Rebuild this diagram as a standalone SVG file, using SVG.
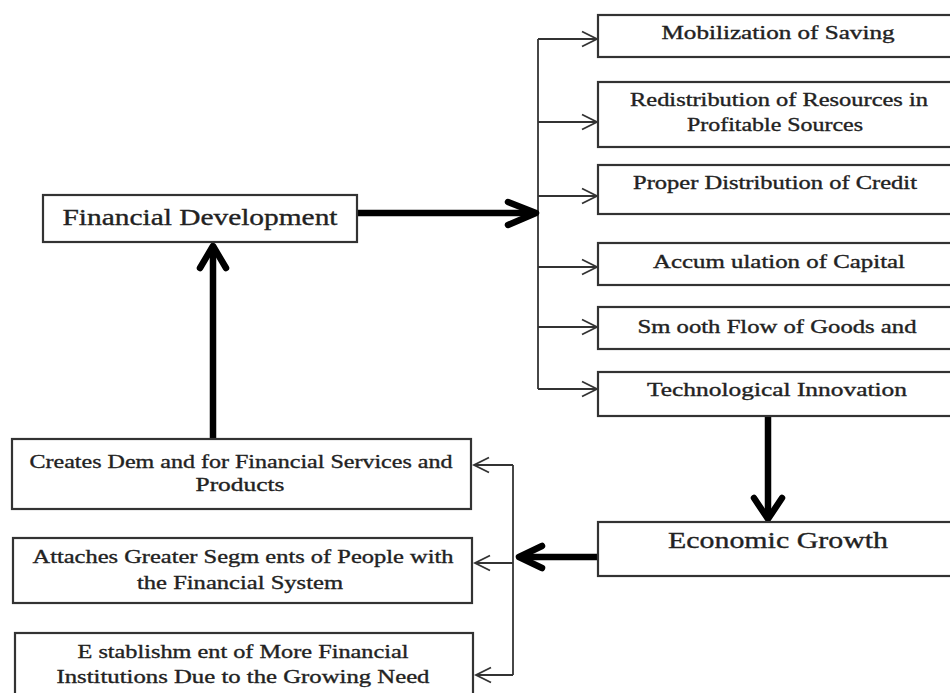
<svg xmlns="http://www.w3.org/2000/svg" width="950" height="693" viewBox="0 0 950 693">
  <style>
    .box { fill: #ffffff; stroke: #333333; stroke-width: 2.2; }
    .lbl { font-family: "Liberation Serif", "Times New Roman", serif; fill: #222222; stroke: #222222; stroke-width: 0.35; text-anchor: middle; }
    .s18 { font-size: 18px; }
    .s19 { font-size: 19px; }
    .s24 { font-size: 24px; }
    .thin { fill: none; stroke: #333333; stroke-width: 1.8; }
    .thick { fill: none; stroke: #000000; stroke-width: 6.5; stroke-linecap: round; stroke-linejoin: round; }
    .shaft { fill: none; stroke: #000000; stroke-width: 6.5; }
  </style>
  <rect width="950" height="693" fill="#ffffff"/>

  <!-- connectors -->
  <g id="connectors">
    <!-- fan-out bus from Financial Development -->
    <path class="thin" d="M538 39 V389"/>
    <path class="thin" d="M538 39 H596 M582 31.5 L597 39 L582 46.5"/>
    <path class="thin" d="M538 122 H596 M582 114.5 L597 122 L582 129.5"/>
    <path class="thin" d="M538 196 H596 M582 188.5 L597 196 L582 203.5"/>
    <path class="thin" d="M538 267 H596 M582 259.5 L597 267 L582 274.5"/>
    <path class="thin" d="M538 327 H596 M582 319.5 L597 327 L582 334.5"/>
    <path class="thin" d="M538 389 H596 M582 381.5 L597 389 L582 396.5"/>

    <!-- Financial Development to the bus -->
    <path class="shaft" d="M357 213 H533"/>
    <path class="thick" d="M508 202 L536 213 L508 225"/>

    <!-- Technological Innovation down to Economic Growth -->
    <path class="shaft" d="M768 416 V518"/>
    <path class="thick" d="M754 498 L768 519 L782 498"/>

    <!-- Economic Growth back to the feedback bus -->
    <path class="shaft" d="M598 557 H521"/>
    <path class="thick" d="M542 546 L519 557 L542 568"/>

    <!-- feedback bus to the lower-left boxes -->
    <path class="thin" d="M513 465 V675"/>
    <path class="thin" d="M513 465 H474 M489 457.5 L474 465 L489 472.5"/>
    <path class="thin" d="M513 563 H475 M490 555.5 L475 563 L490 570.5"/>
    <path class="thin" d="M513 675 H476 M491 667.5 L476 675 L491 682.5"/>

    <!-- Creates Demand up to Financial Development -->
    <path class="shaft" d="M213 439 V249"/>
    <path class="thick" d="M200 268 L213 246 L226 268"/>
  </g>

  <g id="financial-development">
    <rect class="box" x="43" y="195" width="314" height="47"/>
    <text class="lbl s24" x="200" y="225" textLength="275" lengthAdjust="spacingAndGlyphs">Financial Development</text>
  </g>

  <g id="mobilization">
    <rect class="box" x="598" y="15" width="362" height="42"/>
    <text class="lbl s18" x="778" y="39" textLength="233" lengthAdjust="spacingAndGlyphs">Mobilization of Saving</text>
  </g>

  <g id="redistribution">
    <rect class="box" x="598" y="82" width="362" height="65"/>
    <text class="lbl s18" x="779" y="106" textLength="298" lengthAdjust="spacingAndGlyphs">Redistribution of Resources in</text>
    <text class="lbl s18" x="775" y="131" textLength="176" lengthAdjust="spacingAndGlyphs">Profitable Sources</text>
  </g>

  <g id="credit">
    <rect class="box" x="598" y="165" width="362" height="49"/>
    <text class="lbl s18" x="775" y="189" textLength="284" lengthAdjust="spacingAndGlyphs">Proper Distribution of Credit</text>
  </g>

  <g id="capital">
    <rect class="box" x="598" y="243" width="362" height="42"/>
    <text class="lbl s18" x="779" y="268" textLength="252" lengthAdjust="spacingAndGlyphs">Accum ulation of Capital</text>
  </g>

  <g id="goods-flow">
    <rect class="box" x="598" y="307" width="362" height="42"/>
    <text class="lbl s18" x="777" y="333" textLength="279" lengthAdjust="spacingAndGlyphs">Sm ooth Flow of Goods and</text>
  </g>

  <g id="technology">
    <rect class="box" x="598" y="372" width="362" height="44"/>
    <text class="lbl s18" x="777" y="396" textLength="260" lengthAdjust="spacingAndGlyphs">Technological Innovation</text>
  </g>

  <g id="economic-growth">
    <rect class="box" x="598" y="522" width="362" height="54"/>
    <text class="lbl s24" x="778" y="548" textLength="220" lengthAdjust="spacingAndGlyphs">Economic Growth</text>
  </g>

  <g id="demand">
    <rect class="box" x="12" y="439" width="459" height="70"/>
    <text class="lbl s19" x="241" y="468" textLength="423" lengthAdjust="spacingAndGlyphs">Creates Dem and for Financial Services and</text>
    <text class="lbl s19" x="240" y="491" textLength="89" lengthAdjust="spacingAndGlyphs">Products</text>
  </g>

  <g id="segments">
    <rect class="box" x="13" y="538" width="459" height="65"/>
    <text class="lbl s19" x="243" y="563" textLength="421" lengthAdjust="spacingAndGlyphs">Attaches Greater Segm ents of People with</text>
    <text class="lbl s19" x="240" y="589" textLength="206" lengthAdjust="spacingAndGlyphs">the Financial System</text>
  </g>

  <g id="institutions">
    <rect class="box" x="15" y="633" width="458" height="70"/>
    <text class="lbl s19" x="243" y="658" textLength="331" lengthAdjust="spacingAndGlyphs">E stablishm ent of More Financial</text>
    <text class="lbl s19" x="243" y="683" textLength="373" lengthAdjust="spacingAndGlyphs">Institutions Due to the Growing Need</text>
  </g>
</svg>
